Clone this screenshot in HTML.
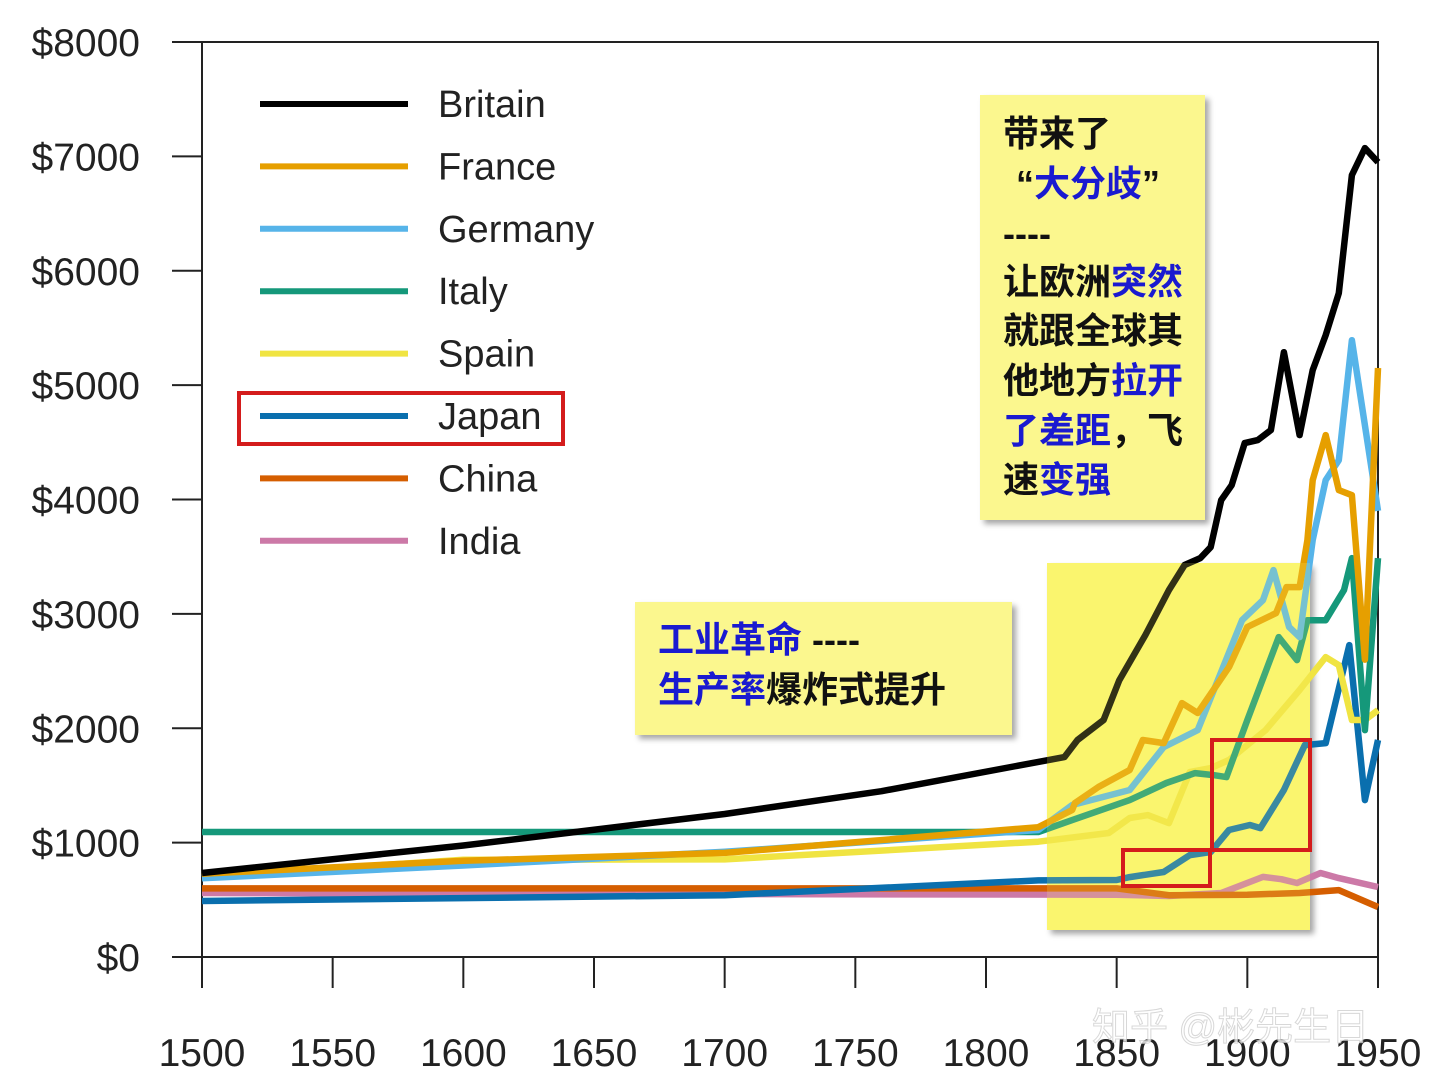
<!DOCTYPE html>
<html><head><meta charset="utf-8">
<style>
body{margin:0;background:#fff;width:1440px;height:1088px;overflow:hidden}
svg{display:block}
text{font-family:"Liberation Sans","Noto Sans CJK SC",sans-serif}
</style></head>
<body>
<svg id="chart" width="1440" height="1088" viewBox="0 0 1440 1088" xmlns="http://www.w3.org/2000/svg">
<defs><filter id="sh" x="-10%" y="-10%" width="130%" height="130%"><feDropShadow dx="4" dy="4" stdDeviation="3" flood-color="#000" flood-opacity="0.35"/></filter></defs>
<g id="axes"></g>
<rect x="1047" y="563" width="263" height="367" fill="#fbf56e" filter="url(#sh)"/>
<g id="lines"></g>
<rect x="1047" y="563" width="263" height="367" fill="#fbf56e" fill-opacity="0.2"/>
<rect x="1123" y="850" width="87" height="36" fill="none" stroke="#d41c1c" stroke-width="4"/>
<rect x="1212" y="740" width="98" height="110" fill="none" stroke="#d41c1c" stroke-width="4"/>
<g id="legend"></g>
<rect x="239" y="393" width="324" height="51" fill="none" stroke="#d41c1c" stroke-width="4"/>
<g>
<rect x="980" y="95" width="225" height="425" fill="#fbf78e" filter="url(#sh)"/>
<text x="1003" y="146" font-size="36" font-weight="bold" fill="#111">带来了</text>
<text x="1016" y="196" font-size="36" font-weight="bold" fill="#111">“<tspan fill="#1a1ad0">大分歧</tspan>”</text>
<text x="1003" y="246" font-size="36" font-weight="bold" fill="#111">----</text>
<text x="1003" y="294" font-size="36" font-weight="bold" fill="#111">让欧洲<tspan fill="#1a1ad0">突然</tspan></text>
<text x="1003" y="343" font-size="36" font-weight="bold" fill="#111">就跟全球其</text>
<text x="1003" y="393" font-size="36" font-weight="bold" fill="#111">他地方<tspan fill="#1a1ad0">拉开</tspan></text>
<text x="1003" y="443" font-size="36" font-weight="bold" fill="#1a1ad0">了差距<tspan fill="#111">，飞</tspan></text>
<text x="1003" y="492" font-size="36" font-weight="bold" fill="#111">速<tspan fill="#1a1ad0">变强</tspan></text>
</g>
<g>
<rect x="635" y="602" width="377" height="133" fill="#fbf78e" filter="url(#sh)"/>
<text x="658" y="652" font-size="36" font-weight="bold" fill="#1a1ad0">工业革命 <tspan fill="#111">----</tspan></text>
<text x="658" y="702" font-size="36" font-weight="bold" fill="#1a1ad0">生产率<tspan fill="#111">爆炸式提升</tspan></text>
</g>
<text x="1092" y="1040" font-size="38" fill="#ffffff" stroke="#cfcfcf" stroke-width="1" opacity="0.8">知乎 @彬先生日</text>
</svg>
<script>
const years = {
 britain:[1500,1600,1700,1760,1820,1830,1835,1845,1851,1861,1870,1876,1882,1886,1890,1894,1899,1904,1909,1914,1920,1925,1930,1935,1940,1945,1950],
 france:[1500,1600,1700,1820,1833,1834,1843,1855,1860,1868,1875,1881,1893,1900,1911,1915,1920,1923,1925,1930,1935,1940,1945,1950],
 germany:[1500,1600,1700,1820,1833,1855,1868,1881,1898,1906,1910,1916,1920,1925,1930,1935,1940,1950],
 italy:[1500,1820,1833,1855,1869,1880,1887,1892,1900,1912,1919,1923,1930,1937,1940,1945,1950],
 spain:[1500,1600,1700,1820,1847,1855,1862,1870,1878,1886,1893,1907,1920,1930,1935,1940,1945,1950],
 japan:[1500,1700,1820,1850,1855,1868,1878,1886,1893,1901,1905,1914,1922,1930,1939,1945,1950],
 china:[1500,1850,1870,1900,1920,1935,1950],
 india:[1500,1700,1850,1870,1890,1906,1913,1919,1928,1935,1950]
};
const values = {
 britain:[734,975,1250,1450,1706,1748,1897,2072,2420,2815,3208,3427,3488,3584,3995,4126,4493,4519,4607,5288,4563,5131,5437,5804,6836,7072,6949],
 france:[727,841,910,1135,1285,1346,1486,1635,1897,1870,2220,2133,2535,2885,3007,3234,3234,3645,4170,4563,4082,4038,2600,5150],
 germany:[688,800,920,1110,1329,1460,1835,1984,2946,3120,3383,2885,2797,3645,4170,4344,5393,3900],
 italy:[1093,1093,1197,1372,1521,1608,1590,1573,2071,2797,2596,2945,2945,3208,3488,1984,3488],
 spain:[700,850,853,1008,1084,1215,1241,1171,1617,1652,1722,1984,2334,2622,2552,2072,2072,2159],
 japan:[490,540,670,673,699,743,891,918,1110,1154,1127,1460,1853,1870,2727,1372,1897],
 china:[600,600,540,545,560,585,437],
 india:[560,550,545,533,560,700,680,647,734,690,612]
};
const colors = {britain:"#000000",france:"#e69f00",germany:"#56b4e9",italy:"#15987a",spain:"#f0e442",japan:"#0a6fae",china:"#d55e00",india:"#cc79a7"};
const labels = {britain:"Britain",france:"France",germany:"Germany",italy:"Italy",spain:"Spain",japan:"Japan",china:"China",india:"India"};
const xTicks = [1500,1550,1600,1650,1700,1750,1800,1850,1900,1950];
const yTicks = [0,1000,2000,3000,4000,5000,6000,7000,8000];
const drawOrder = ["india","china","japan","spain","italy","germany","france","britain"];
const legendOrder = ["britain","france","germany","italy","spain","japan","china","india"];

const X0=202,X1=1378,Y0=957,Y1=42;
const xs = v => X0 + (v-1500)/(1950-1500)*(X1-X0);
const ys = v => Y0 - v/8000*(Y0-Y1);
const NS="http://www.w3.org/2000/svg";
function mk(tag, attrs, parent){const e=document.createElementNS(NS,tag);for(const k in attrs)e.setAttribute(k,attrs[k]);parent.appendChild(e);return e;}
const ax=document.getElementById('axes');
let frame=mk('path',{d:`M172 ${Y1} H${X1} V${Y0} H${X0} V${Y1}`,fill:'none',stroke:'#222','stroke-width':2},ax);


yTicks.forEach(t=>{
 const l=mk('line',{x1:172,x2:X0,y1:ys(t),y2:ys(t),stroke:'#222','stroke-width':2},ax);
 
 
 const tx=mk('text',{x:140,y:ys(t)+14,'text-anchor':'end','font-size':39,fill:'#222'},ax);
 tx.textContent='$'+t;
 
 
});
xTicks.forEach(t=>{
 const l=mk('line',{x1:xs(t),x2:xs(t),y1:Y0,y2:988,stroke:'#222','stroke-width':2},ax);
 
 
 const tx=mk('text',{x:xs(t),y:1066,'text-anchor':'middle','font-size':39,fill:'#222'},ax);
 tx.textContent=t;
 
 
});
const lg=document.getElementById('lines');
drawOrder.forEach(k=>{
 const d=years[k].map((y,i)=>(i?'L':'M')+xs(y).toFixed(1)+' '+ys(values[k][i]).toFixed(1)).join(' ');
 const p=mk('path',{d:d,fill:'none',stroke:colors[k],'stroke-width':6.5,'stroke-linejoin':'round'},lg);
 
 
});
const leg=document.getElementById('legend');
legendOrder.forEach((k,i)=>{
 const y=104+i*62.4;
 const l=mk('line',{x1:260,x2:408,y1:y,y2:y,stroke:colors[k],'stroke-width':6},leg);
 
 
 const t=mk('text',{x:438,y:y+13,'font-size':38,fill:'#222'},leg);
 t.textContent=labels[k];
 
 
});
</script>
</body></html>
